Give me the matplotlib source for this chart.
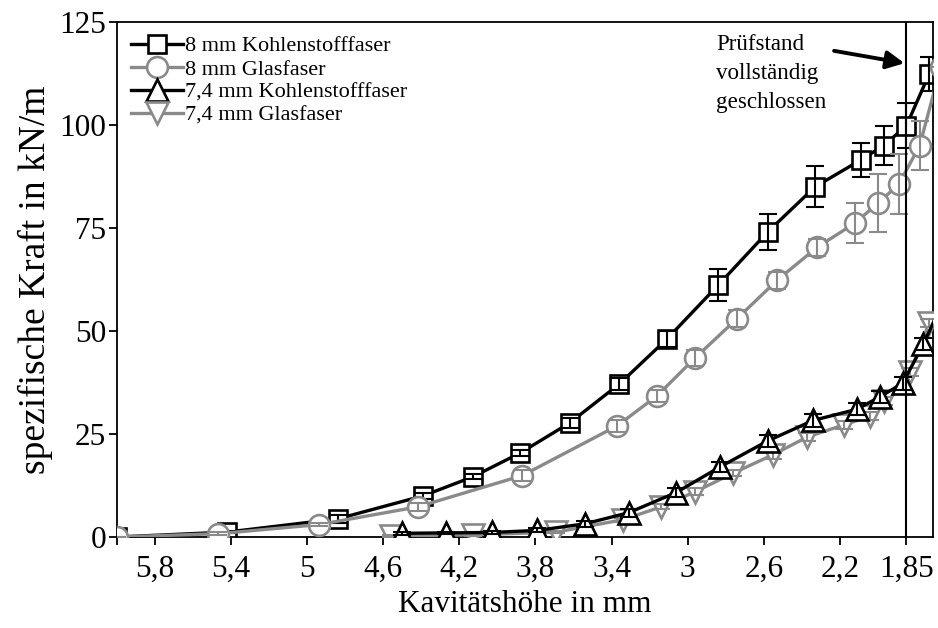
import matplotlib
matplotlib.use("Agg")
import matplotlib.pyplot as plt

plt.rcParams['font.family'] = ['Liberation Serif', 'DejaVu Serif']
plt.rcParams['mathtext.fontset'] = 'stix'

# Kavitätshöhe (mm) und spezifische Kraft (kN/m) mit Standardabweichung
x_8_kf = [6.0, 5.42, 4.84, 4.39, 4.13, 3.88, 3.62, 3.36, 3.11, 2.84, 2.58, 2.33, 2.09, 1.97, 1.85, 1.73]
y_8_kf = [0.0, 1.2, 4.4, 10.0, 14.6, 20.4, 27.7, 37.1, 48.0, 61.1, 74.0, 85.0, 91.5, 95.0, 99.8, 112.4]
e_8_kf = [0.0, 0.3, 0.9, 0.8, 0.6, 0.8, 1.2, 1.5, 2.0, 3.9, 4.4, 5.0, 4.1, 4.7, 5.5, 4.1]

x_8_gf = [6.0, 5.47, 4.94, 4.42, 3.87, 3.37, 3.16, 2.96, 2.74, 2.53, 2.32, 2.12, 2.0, 1.89, 1.78, 1.67]
y_8_gf = [0.0, 0.8, 3.0, 7.3, 14.9, 27.0, 34.3, 43.5, 53.0, 62.3, 70.3, 76.2, 81.0, 85.6, 95.0, 114.0]
e_8_gf = [0.0, 0.3, 0.4, 1.0, 1.3, 1.5, 1.5, 2.0, 2.0, 2.0, 2.0, 4.8, 7.0, 7.3, 6.0, 0.0]

x_74_kf = [4.5, 4.27, 4.03, 3.79, 3.54, 3.31, 3.06, 2.83, 2.58, 2.34, 2.11, 1.99, 1.87, 1.76, 1.64]
y_74_kf = [0.9, 1.0, 1.1, 1.6, 3.2, 5.9, 10.8, 17.0, 23.3, 28.3, 31.0, 34.0, 37.3, 46.8, 59.0]
e_74_kf = [0.3, 0.3, 0.4, 0.5, 0.8, 1.0, 1.2, 1.3, 1.5, 1.5, 1.5, 1.5, 1.5, 1.5, 0.0]

x_74_gf = [4.56, 4.13, 3.69, 3.34, 3.14, 2.96, 2.76, 2.55, 2.37, 2.18, 2.04, 1.97, 1.83, 1.73]
y_74_gf = [0.3, 0.5, 1.2, 4.2, 7.3, 11.0, 15.5, 20.0, 24.3, 27.2, 29.3, 33.0, 40.0, 52.0]
e_74_gf = [0.2, 0.2, 0.3, 0.5, 0.6, 0.8, 0.8, 1.0, 1.0, 1.0, 1.0, 1.0, 1.0, 1.0]

x_ticks = [6.0, 5.8, 5.4, 5.0, 4.6, 4.2, 3.8, 3.4, 3.0, 2.6, 2.2, 1.85]
x_ticklabels = ['', '5,8', '5,4', '5', '4,6', '4,2', '3,8', '3,4', '3', '2,6', '2,2', '1,85']
y_ticks = [0, 25, 50, 75, 100, 125]

BLACK = '#000000'
GRAY = '#8a8a8a'

fig = plt.figure(figsize=(9.38, 6.28), dpi=100)
ax = fig.add_axes([117 / 938, 91 / 628, 816 / 938, 515 / 628])

series = [
    (x_8_kf, y_8_kf, e_8_kf, BLACK, 's', 13, '8 mm Kohlenstofffaser'),
    (x_8_gf, y_8_gf, e_8_gf, GRAY, 'o', 15, '8 mm Glasfaser'),
    (x_74_gf, y_74_gf, e_74_gf, GRAY, 'v', 16, '7,4 mm Glasfaser'),
    (x_74_kf, y_74_kf, e_74_kf, BLACK, '^', 16, '7,4 mm Kohlenstofffaser'),
]

handles = {}
z = 2
for xs, ys, es, col, mk, ms, lab in series:
    h, = ax.plot(xs, ys, '-', color=col, lw=2.4, marker=mk, ms=ms,
                 mfc='white', mec=col, mew=1.9, label=lab, zorder=z)
    ax.errorbar(xs, ys, yerr=es, fmt='none', ecolor=col, elinewidth=1.5,
                capsize=6.5, capthick=1.5, zorder=z + 0.5)
    handles[lab] = h
    z += 1

order = ['8 mm Kohlenstofffaser', '8 mm Glasfaser',
         '7,4 mm Kohlenstofffaser', '7,4 mm Glasfaser']
ax.legend([handles[k] for k in order], order, loc='upper left',
          bbox_to_anchor=(0.0, 1.0), frameon=False, fontsize=16,
          handlelength=2.35, handletextpad=0.1, labelspacing=0.12,
          borderaxespad=0.0, borderpad=0.62)

# Prüfstand vollständig geschlossen
ax.axvline(1.85, color='black', lw=1.5, zorder=10)
ax.annotate('', xy=(1.86, 115.0), xytext=(2.23, 118.0),
            arrowprops=dict(arrowstyle='-|>', color='black', lw=2.8,
                            mutation_scale=27, shrinkA=0, shrinkB=0))
ax.text(2.85, 122.0, 'Prüfstand\nvollständig\ngeschlossen', fontsize=16.6,
        ha='left', va='top', linespacing=1.5)

ax.set_xlim(6.0, 1.71)
ax.set_ylim(0, 125)
ax.set_xticks(x_ticks)
ax.set_xticklabels(x_ticklabels)
ax.set_yticks(y_ticks)
ax.tick_params(axis='both', direction='out', length=6, width=1.3,
               labelsize=22.5)
ax.tick_params(axis='x', pad=7)
ax.tick_params(axis='y', pad=2)
for sp in ax.spines.values():
    sp.set_linewidth(1.3)

ax.set_xlabel('Kavitätshöhe in mm', fontsize=22.5, labelpad=4)
ax.set_ylabel('spezifische Kraft in kN/m', fontsize=27, labelpad=4)

fig.savefig('out.png', dpi=100)
